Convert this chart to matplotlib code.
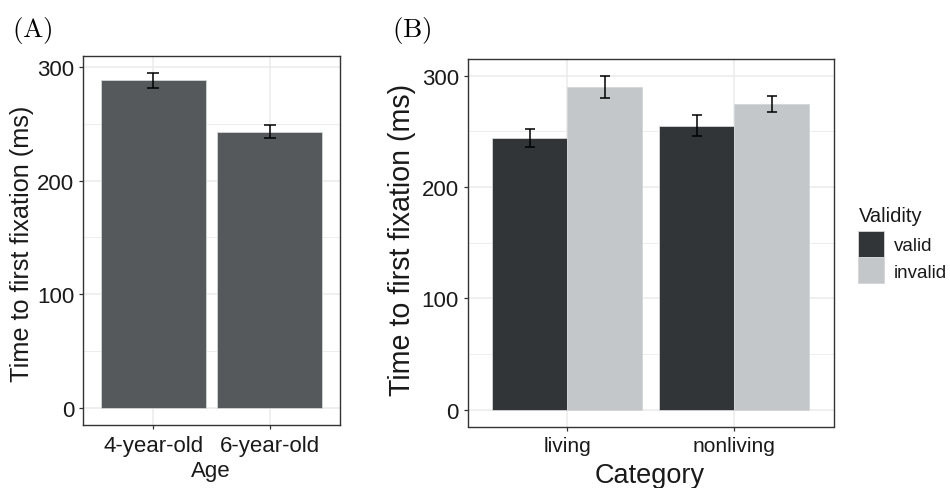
import numpy as np
import matplotlib
matplotlib.use("Agg")
import matplotlib.pyplot as plt
from matplotlib.patches import Patch

# ---- data -------------------------------------------------------------
ages = ["4-year-old", "6-year-old"]
age_means = [288.0, 243.0]
age_se = [6.7, 5.7]

categories = ["living", "nonliving"]
validity_levels = ["valid", "invalid"]
valid_means = [244.0, 255.0]
valid_se = [8.3, 9.5]
invalid_means = [290.0, 274.5]
invalid_se = [10.0, 7.0]

# ---- style ------------------------------------------------------------
plt.rcParams["font.family"] = ["Liberation Sans", "DejaVu Sans"]
plt.rcParams["mathtext.fontset"] = "cm"

W, H = 950, 489
fig = plt.figure(figsize=(W / 100, H / 100), dpi=100)

TEXT = "#1a1a1a"
BORDER = "#333333"
GRID = "#ebebeb"
col_age = "#55595c"
col_valid = "#313538"
col_invalid = "#c3c7c9"
edge = "#d4d7d8"


def px_axes(left, top, right, bottom):
    return fig.add_axes([left / W, 1 - bottom / H, (right - left) / W, (bottom - top) / H])


def style_axes(ax, ncat, top):
    ax.set_xlim(0.4, ncat + 0.6)
    ax.set_ylim(-0.05 * top, 1.05 * top)
    ax.set_yticks([0, 100, 200, 300])
    ax.set_yticks([50, 150, 250], minor=True)
    ax.set_xticks(np.arange(1, ncat + 1))
    ax.grid(True, which="major", color=GRID, lw=1.1, zorder=0)
    ax.grid(True, which="minor", axis="y", color=GRID, lw=0.6, zorder=0)
    ax.set_axisbelow(True)
    for s in ax.spines.values():
        s.set_color(BORDER)
        s.set_linewidth(1.0)
    ax.tick_params(which="major", length=3.2, width=0.9, color=BORDER,
                   labelcolor=TEXT, labelsize=16, pad=3)
    ax.tick_params(which="minor", length=0)
    ax.tick_params(axis="x", pad=4)


# ---- panel A: time to first fixation by age ---------------------------
axA = px_axes(83, 57, 340, 425.8)
xa = np.arange(1, len(ages) + 1)
axA.bar(xa, age_means, width=0.9, color=col_age, edgecolor=edge, linewidth=0.6, zorder=2)
axA.errorbar(xa, age_means, yerr=age_se, fmt="none", ecolor="black",
             elinewidth=1.1, capsize=4, capthick=1.1, zorder=3)
style_axes(axA, len(ages), max(np.add(age_means, age_se)))
axA.set_xticklabels(ages)

fig.text(22 / W, 1 - 243.5 / H, "Time to first fixation (ms)", rotation=90,
         ha="center", va="center", fontsize=18.2, color=TEXT)
fig.text(211 / W, 1 - 472 / H, "Age", ha="center", va="center", fontsize=16, color=TEXT)
fig.text(12 / W, 1 - 30 / H, r"$\mathrm{(A)}$", ha="left", va="center", fontsize=19.5)

# ---- panel B: time to first fixation by category and validity ---------
axB = px_axes(467.5, 60, 834, 427.5)
xb = np.arange(1, len(categories) + 1)
bw = 0.45
axB.bar(xb - bw / 2, valid_means, width=bw, color=col_valid, edgecolor=edge,
        linewidth=0.6, zorder=2, label=validity_levels[0])
axB.bar(xb + bw / 2, invalid_means, width=bw, color=col_invalid, edgecolor=edge,
        linewidth=0.6, zorder=2, label=validity_levels[1])
axB.errorbar(xb - bw / 2, valid_means, yerr=valid_se, fmt="none", ecolor="black",
             elinewidth=1.1, capsize=3.3, capthick=1.1, zorder=3)
axB.errorbar(xb + bw / 2, invalid_means, yerr=invalid_se, fmt="none", ecolor="black",
             elinewidth=1.1, capsize=3.3, capthick=1.1, zorder=3)
top_b = max(max(np.add(valid_means, valid_se)), max(np.add(invalid_means, invalid_se)))
style_axes(axB, len(categories), top_b)
axB.set_xticklabels(categories, fontsize=15)

fig.text(402 / W, 1 - 240 / H, "Time to first fixation (ms)", rotation=90,
         ha="center", va="center", fontsize=20.6, color=TEXT)
fig.text(650 / W, 1 - 476 / H, "Category", ha="center", va="center", fontsize=19.5, color=TEXT)
fig.text(392 / W, 1 - 30 / H, r"$\mathrm{(B)}$", ha="left", va="center", fontsize=19.5)

# legend: title set as its own text, keys below it
fig.text(859 / W, 1 - 222 / H, "Validity", ha="left", va="baseline",
         fontsize=14.5, color=TEXT)
handles = [Patch(facecolor=col_valid, edgecolor=edge, linewidth=0.6),
           Patch(facecolor=col_invalid, edgecolor=edge, linewidth=0.6)]
leg = fig.legend(handles, validity_levels, loc="upper left",
                 bbox_to_anchor=(858 / W, 1 - 232 / H), frameon=False,
                 fontsize=13.5, handlelength=1.39,
                 handleheight=1.76, handletextpad=0.5, labelspacing=0.02,
                 borderpad=0, borderaxespad=0)
for t in leg.get_texts():
    t.set_color(TEXT)

fig.savefig("out.png", dpi=100)
